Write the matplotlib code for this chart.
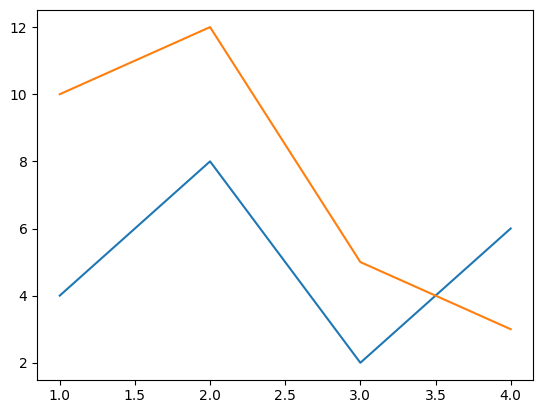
import matplotlib
matplotlib.use("Agg")
import matplotlib.pyplot as plt

x = [1, 2, 3, 4]
series_a = [4, 8, 2, 6]
series_b = [10, 12, 5, 3]

fig, ax = plt.subplots(figsize=(5.43, 4.13), dpi=100)
fig.subplots_adjust(left=0.0685, right=0.982, top=0.975, bottom=0.081)
ax.plot(x, series_a)
ax.plot(x, series_b)

fig.savefig("out.png", dpi=100)
